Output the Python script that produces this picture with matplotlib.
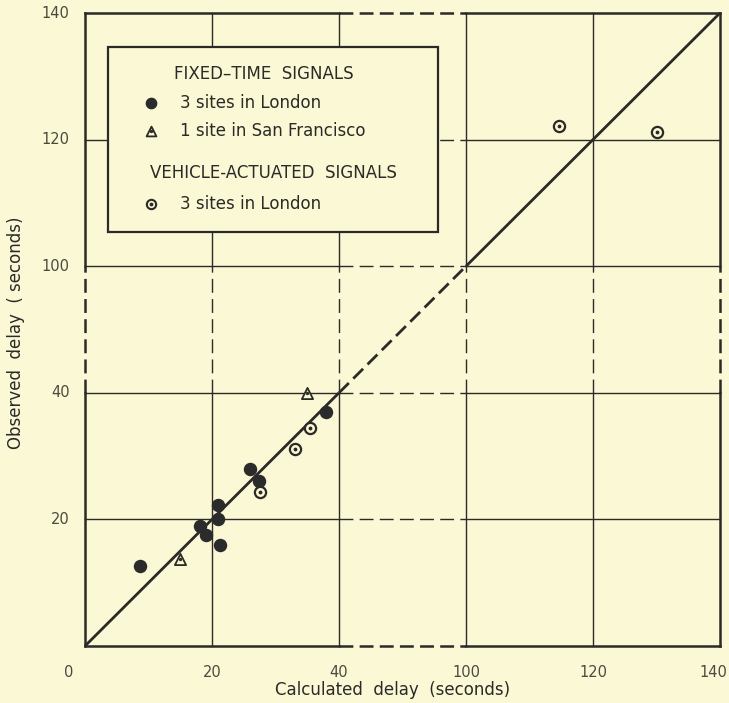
import numpy as np
import matplotlib
matplotlib.use("Agg")
import matplotlib.pyplot as plt

plt.rcParams["lines.scale_dashes"] = False

# observed vs calculated delay (seconds)
ft_london_calc = [8.6, 18.1, 19.0, 21.0, 21.0, 21.3, 26.0, 27.4, 37.9]
ft_london_obs = [12.6, 19.0, 17.5, 22.2, 20.0, 16.0, 27.9, 26.1, 37.0]
ft_sf_calc = [14.9, 35.0]
ft_sf_obs = [13.8, 40.0]
va_london_calc = [27.6, 33.0, 35.5, 114.6, 130.0]
va_london_obs = [24.3, 31.2, 34.5, 122.1, 121.2]

tick_vals = [20, 40, 100, 120, 140]
grid_vals = [0, 20, 40, 100, 120, 140]

BG = "#fbf8d6"
INK = "#2a2a26"
LBL = "#4a4a3e"


def fwd(v):
    v = np.asarray(v, dtype=float)
    return np.where(v <= 40, v, np.where(v <= 100, 40 + (v - 40) / 3.0, v - 40))


def inv(u):
    u = np.asarray(u, dtype=float)
    return np.where(u <= 40, u, np.where(u <= 60, 40 + (u - 40) * 3.0, u + 40))


fig = plt.figure(figsize=(7.29, 7.03), dpi=100, facecolor=BG)
ax = fig.add_axes([85 / 729, 57 / 703, 635 / 729, 633 / 703])
ax.set_facecolor(BG)
ax.set_xscale("function", functions=(fwd, inv))
ax.set_yscale("function", functions=(fwd, inv))
ax.set_xlim(0, 140)
ax.set_ylim(0, 140)
for s in ax.spines.values():
    s.set_visible(False)

# grid: solid inside the real ranges, dashed across the 40-100 break
dash = (0, (10, 4.5))
bands = [(0, 40, "-"), (40, 100, dash), (100, 140, "-")]
for g in grid_vals:
    lw = 1.8 if g in (0, 140) else 1.0
    for a, b, ls in bands:
        ax.plot([a, b], [g, g], color=INK, lw=lw, ls=ls,
                solid_capstyle="projecting", clip_on=False)
        ax.plot([g, g], [a, b], color=INK, lw=lw, ls=ls,
                solid_capstyle="projecting", clip_on=False)

# line of equality
for a, b, ls in bands:
    ax.plot([a, b], [a, b], color=INK, lw=2.0, ls=ls, solid_capstyle="butt",
            clip_on=False)

ax.scatter(ft_london_calc, ft_london_obs, s=75, color="#2b2b2b", zorder=5)
ax.scatter(ft_sf_calc, ft_sf_obs, s=65, marker="^", facecolor=BG,
           edgecolor=INK, lw=1.3, zorder=5)
ax.scatter(ft_sf_calc, ft_sf_obs, s=2, color=INK, zorder=6)
ax.scatter(va_london_calc, va_london_obs, s=65, facecolor=BG,
           edgecolor=INK, lw=1.6, zorder=5)
ax.scatter(va_london_calc, va_london_obs, s=3, color=INK, zorder=6)

ax.set_xticks([])
ax.set_yticks([])
for t in tick_vals:
    dx = -5 if t == 140 else 0
    ax.annotate(str(t), (t, 0), xycoords="data", xytext=(dx, -19),
                textcoords="offset points", ha="center", va="center",
                fontsize=10.5, color=LBL)
    ax.annotate(str(t), (0, t), xycoords="data", xytext=(-11, 0),
                textcoords="offset points", ha="right", va="center",
                fontsize=10.5, color=LBL)
ax.annotate("0", (0, 0), xycoords="data", xytext=(-12, -19),
            textcoords="offset points", ha="center", va="center",
            fontsize=10.5, color=LBL)

fig.text(393 / 729, 1 - 690 / 703, "Calculated  delay  (seconds)",
         ha="center", va="center", fontsize=12, color=INK)
fig.text(16 / 729, 1 - 333 / 703, "Observed  delay  ( seconds)",
         ha="center", va="center", rotation=90, fontsize=12, color=INK)

# legend box
lx0, ly0, lx1, ly1 = 108 / 729, 1 - 232 / 703, 438 / 729, 1 - 47 / 703
box = plt.Rectangle((lx0, ly0), lx1 - lx0, ly1 - ly0, transform=fig.transFigure,
                    facecolor=BG, edgecolor=INK, lw=1.6, zorder=10)
fig.add_artist(box)
fy = lambda p: 1 - p / 703
fx = lambda p: p / 729
kw = dict(fontsize=12, color=INK, va="center", zorder=11)
fig.text(fx(264), fy(74), "FIXED\u2013TIME  SIGNALS", ha="center", **kw)
fig.text(fx(180), fy(103), "3 sites in London", ha="left", **kw)
fig.text(fx(180), fy(131), "1 site in San Francisco", ha="left", **kw)
fig.text(fx(273), fy(173), "VEHICLE-ACTUATED  SIGNALS", ha="center", **kw)
fig.text(fx(180), fy(204), "3 sites in London", ha="left", **kw)

mk = fig.add_axes([0, 0, 1, 1], facecolor="none", zorder=12)
mk.set_xlim(0, 1)
mk.set_ylim(0, 1)
mk.axis("off")
mk.scatter([fx(151)], [fy(103)], s=55, color="#2b2b2b")
mk.scatter([fx(151)], [fy(131)], s=50, marker="^", facecolor=BG, edgecolor=INK, lw=1.3)
mk.scatter([fx(151)], [fy(131)], s=2, color=INK)
mk.scatter([fx(151)], [fy(204)], s=45, facecolor=BG, edgecolor=INK, lw=1.5)
mk.scatter([fx(151)], [fy(204)], s=3, color=INK)

fig.savefig("out.png", dpi=100, facecolor=BG)
